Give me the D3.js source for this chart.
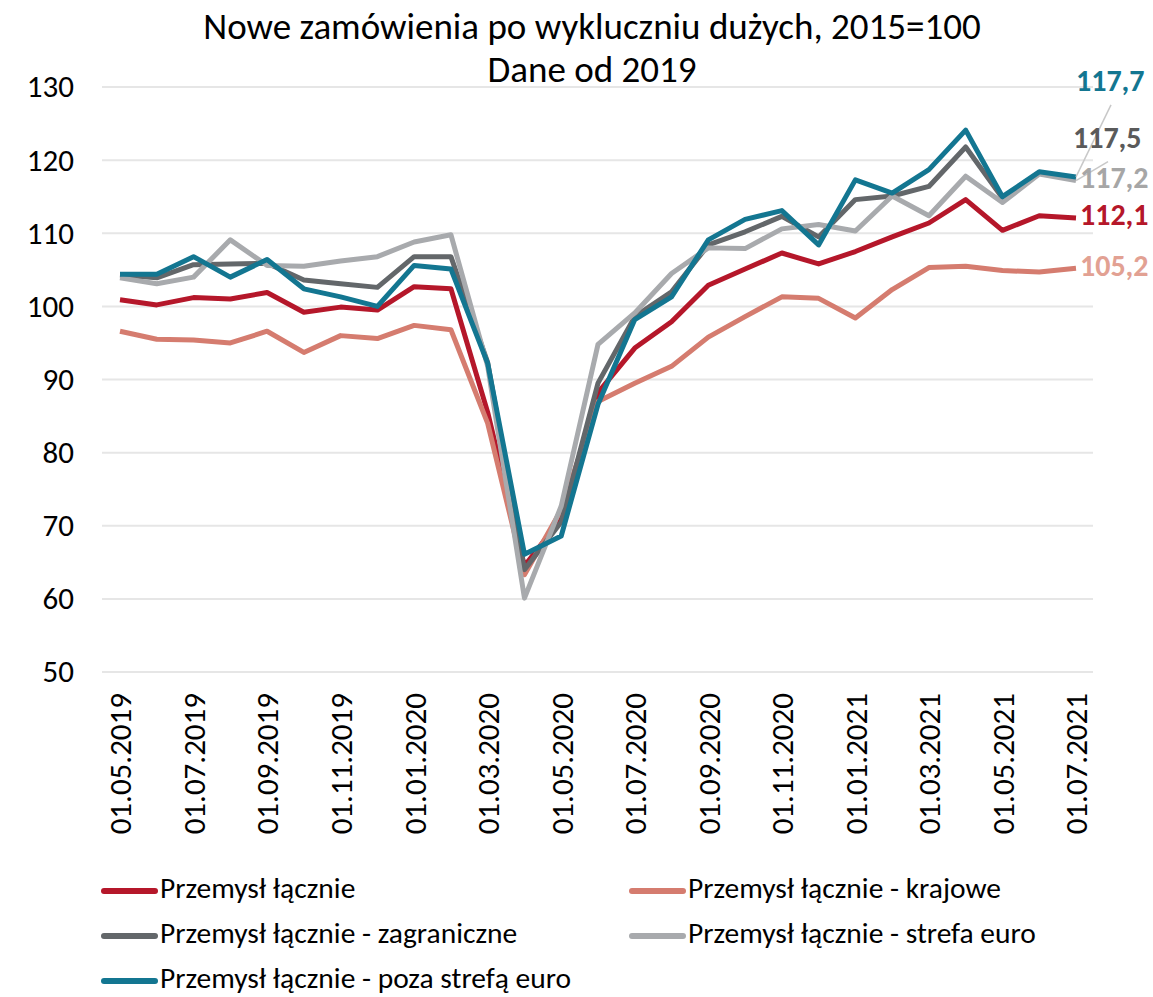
<!DOCTYPE html>
<html>
<head>
<meta charset="utf-8">
<script src="https://cdn.jsdelivr.net/npm/d3@7"></script>
<style>
    body {margin: 0; background: #fff;}
    svg {font-family: Carlito, Lato, sans-serif;}
    .grid line {stroke: #e6e6e6; stroke-width: 2;}
    .series {fill: none; stroke-width: 5; stroke-linejoin: round;}
</style>
</head>
<body>
<svg id="chart"></svg>
<script>
// months 01.05.2019 .. 01.07.2021
const months = ['01.05.2019','01.06.2019','01.07.2019','01.08.2019','01.09.2019','01.10.2019','01.11.2019','01.12.2019',
    '01.01.2020','01.02.2020','01.03.2020','01.04.2020','01.05.2020','01.06.2020','01.07.2020','01.08.2020','01.09.2020',
    '01.10.2020','01.11.2020','01.12.2020','01.01.2021','01.02.2021','01.03.2021','01.04.2021','01.05.2021','01.06.2021','01.07.2021'];

const lacznie = [100.9,100.2,101.2,101.0,101.9,99.2,99.9,99.5,102.7,102.4,85.5,64.5,71.0,88.2,94.3,97.9,102.9,105.1,107.3,105.8,107.5,109.5,111.4,114.6,110.4,112.4,112.1];
const krajowe = [96.6,95.5,95.4,95.0,96.6,93.7,96.0,95.6,97.4,96.8,84.0,63.3,72.2,87.0,89.5,91.8,95.8,98.6,101.3,101.1,98.4,102.3,105.3,105.5,104.9,104.7,105.2];
const zagraniczne = [104.3,103.9,105.7,105.8,105.9,103.6,103.1,102.6,106.8,106.8,92.3,64.0,70.5,89.5,98.6,102.0,108.4,110.2,112.3,109.5,114.6,115.1,116.4,121.8,114.8,118.3,117.5];
const strefaEuro = [103.9,103.1,104.0,109.1,105.6,105.5,106.2,106.8,108.8,109.8,91.8,60.1,72.7,94.8,99.1,104.5,108.0,107.9,110.6,111.2,110.3,115.1,112.4,117.8,114.2,118.1,117.2];
const pozaStrefa = [104.4,104.4,106.8,104.0,106.4,102.4,101.3,100.0,105.6,105.1,92.2,66.1,68.6,86.6,98.2,101.3,109.1,111.9,113.1,108.4,117.3,115.5,118.7,124.1,115.0,118.4,117.7];

const seriesNames = ['Przemysł łącznie','Przemysł łącznie - krajowe','Przemysł łącznie - zagraniczne',
    'Przemysł łącznie - strefa euro','Przemysł łącznie - poza strefą euro'];
const yTicks = [50,60,70,80,90,100,110,120,130];
const titleLines = ['Nowe zamówienia po wykluczniu dużych, 2015=100','Dane od 2019'];

let graphicopt = {
    width: 1153, height: 997,
    margin: {top: 87, left: 120, right: 77, bottom: 325},
    gridLeft: 102, gridRight: 1093,
    fontSize: 31,
};
let colors = ['#b5172a','#d57c6f','#63676a','#a8aaad','#137691'];
let labelColors = ['#b5172a','#e2a193','#5a5a5a','#a6a6a6','#137691'];

let svg = d3.select('#chart').attr('width', graphicopt.width).attr('height', graphicopt.height);

let x = d3.scalePoint()
    .domain(months)
    .range([graphicopt.margin.left, graphicopt.width - graphicopt.margin.right]);
let y = d3.scaleLinear()
    .domain([50, 130])
    .range([graphicopt.height - graphicopt.margin.bottom, graphicopt.margin.top]);

// title
svg.append('g').attr('class','title')
    .selectAll('text').data(titleLines).enter()
    .append('text')
    .attr('x', 592)
    .attr('y', (d,i) => 30 + i*43)
    .attr('text-anchor','middle')
    .attr('dominant-baseline','middle')
    .style('font-size','37px')
    .text(d => d);

// gridlines
svg.append('g').attr('class','grid')
    .selectAll('line').data(yTicks).enter()
    .append('line')
    .attr('x1', graphicopt.gridLeft).attr('x2', graphicopt.gridRight)
    .attr('y1', d => y(d)).attr('y2', d => y(d));

// y axis
let yAxis = d3.axisLeft(y).tickValues(yTicks).tickSize(0).tickPadding(28);
svg.append('g')
    .attr('class','y axis')
    .attr('transform', `translate(${graphicopt.gridLeft},0)`)
    .call(yAxis)
    .attr('font-family', null)
    .attr('font-size', null)
    .call(g => g.select('.domain').remove())
    .selectAll('text')
    .style('font-size', graphicopt.fontSize + 'px')
    .attr('fill','#000');

// x axis - every second month, rotated
let xAxis = d3.axisBottom(x).tickValues(months.filter((d,i) => i%2===0)).tickSize(0);
svg.append('g')
    .attr('class','x axis')
    .attr('transform', `translate(0,${y(50)})`)
    .call(xAxis)
    .attr('font-family', null)
    .attr('font-size', null)
    .call(g => g.select('.domain').remove())
    .selectAll('text')
    .style('font-size', graphicopt.fontSize + 'px')
    .attr('fill','#000')
    .attr('text-anchor','end')
    .attr('transform','rotate(-90)')
    .attr('x', -21)
    .attr('y', 0)
    .attr('dy','.35em');

// lines
let dataset = [lacznie, krajowe, zagraniczne, strefaEuro, pozaStrefa];
let line = d3.line()
    .x((d,i) => x(months[i]))
    .y(d => y(d));

svg.append('g').attr('class','lines')
    .selectAll('path').data(dataset).enter()
    .append('path')
    .attr('class','series')
    .attr('stroke', (d,i) => colors[i])
    .attr('d', line);

// end labels
let lastX = x(months[months.length-1]);
let labelPos = [
    {dx: 4, dy: 0},
    {dx: 4, dy: 0},
    {dx: -3, dy: -38},
    {dx: 4, dy: 0},
    {dx: 0, dy: -93},
];
let fmt = v => d3.format('.1f')(v).replace('.', ',');

// leader lines for displaced labels
svg.append('g').attr('class','leaders')
    .selectAll('line').data([4, 3]).enter()
    .append('line')
    .attr('x1', lastX)
    .attr('y1', d => y(dataset[d][dataset[d].length-1]))
    .attr('x2', (d) => d === 4 ? lastX + 35 : lastX + 32)
    .attr('y2', (d) => d === 4 ? y(dataset[d][dataset[d].length-1]) - 72 : y(dataset[d][dataset[d].length-1]) - 19)
    .attr('stroke','#c8c8c8')
    .attr('stroke-width', 1.5);

svg.append('g').attr('class','end-labels')
    .selectAll('text').data(dataset).enter()
    .append('text')
    .attr('x', (d,i) => lastX + labelPos[i].dx)
    .attr('y', (d,i) => y(d[d.length-1]) + labelPos[i].dy)
    .attr('dominant-baseline','middle')
    .attr('fill', (d,i) => labelColors[i])
    .style('font-weight','bold')
    .style('font-size','30px')
    .text(d => fmt(d[d.length-1]));

// legend
let legend = svg.append('g').attr('class','legend')
    .selectAll('g').data(seriesNames).enter()
    .append('g')
    .attr('transform', (d,i) => `translate(${i%2===0 ? 102 : 630},${891 + Math.floor(i/2)*45})`);
legend.append('line')
    .attr('x1', 2).attr('x2', 53)
    .attr('stroke', (d,i) => colors[i])
    .attr('stroke-width', 6)
    .attr('stroke-linecap','round');
legend.append('text')
    .attr('x', 58)
    .attr('dominant-baseline','middle')
    .style('font-size', '29.5px')
    .text(d => d);
</script>
</body>
</html>
